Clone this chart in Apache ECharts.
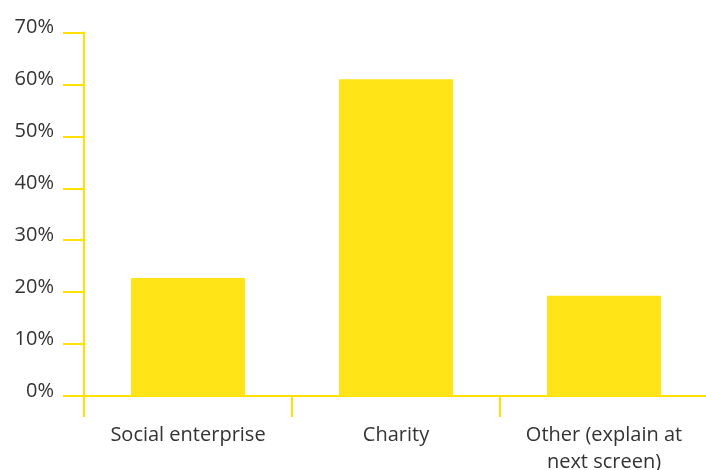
<!DOCTYPE html>
<html>
<head>
<meta charset="utf-8">
<script src="https://cdn.jsdelivr.net/npm/echarts@6/dist/echarts.min.js"></script>
<style>
  html, body { margin: 0; padding: 0; background: #fff; }
  #main { width: 706px; height: 470px; }
</style>
</head>
<body>
<div id="main"></div>
<script>
// categories and values (percent)
var categories = ['Social enterprise', 'Charity', 'Other (explain at\nnext screen)'];
var values = [22.7, 61.0, 19.3];

var yellow = '#FFE417';
var axisYellow = '#FFE000';

var chart = echarts.init(document.getElementById('main'));

var option = {
    animation: false,
    grid: {
        left: 84,
        top: 32.5,
        width: 624,
        bottom: 74,
        outerBoundsMode: 'none'
    },
    xAxis: {
        type: 'category',
        data: categories,
        axisLine: { lineStyle: { color: axisYellow, width: 2 } },
        axisTick: { show: true, length: 21, lineStyle: { color: axisYellow, width: 2 } },
        axisLabel: {
            color: '#333',
            fontFamily: 'Open Sans',
            fontSize: 20,
            lineHeight: 27,
            margin: 26,
            interval: 0
        }
    },
    yAxis: {
        type: 'value',
        min: 0,
        max: 70,
        interval: 10,
        splitLine: { show: false },
        axisLine: { show: true, lineStyle: { color: axisYellow, width: 2 } },
        axisTick: { show: true, length: 21, lineStyle: { color: axisYellow, width: 2 } },
        axisLabel: {
            color: '#333',
            fontFamily: 'Open Sans',
            fontSize: 20,
            margin: 30,
            verticalAlign: 'bottom',
            lineHeight: 10,
            formatter: '{value}%'
        }
    },
    series: [{
        type: 'bar',
        data: values,
        barWidth: 114,
        itemStyle: { color: yellow }
    }]
};

chart.setOption(option);
</script>
</body>
</html>
